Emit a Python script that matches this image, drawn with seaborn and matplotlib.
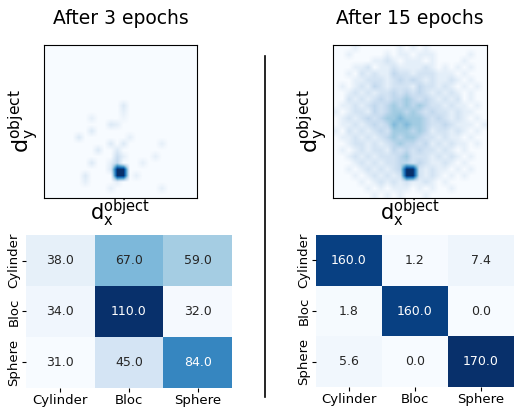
import numpy as np
import matplotlib
matplotlib.use("Agg")
import matplotlib.pyplot as plt
import seaborn as sb
from matplotlib.lines import Line2D

# confusion matrices
classes = ["Cylinder", "Bloc", "Sphere"]
conf3 = [[38.0, 67.0, 59.0],
         [34.0, 110.0, 32.0],
         [31.0, 45.0, 84.0]]
conf15 = [[160.0, 1.2, 7.4],
          [1.8, 160.0, 0.0],
          [5.6, 0.0, 170.0]]

# 2d histograms of object displacement (24x24 bins)
hist3 = ["000000000000000000000000",
         "000000000000000000000000",
         "000000000000000000000000",
         "000000000000000000000000",
         "000000000000000000000000",
         "000000000000000000000000",
         "000000000000000000000000",
         "000000000000000000000000",
         "000000000000000000000000",
         "000000000000300000000000",
         "000000000000200000000000",
         "000000020000100000000000",
         "000000000032000000000000",
         "000000030000000000000000",
         "000003000000020000000000",
         "000000000030300000200000",
         "000000003003000000000000",
         "000000000005200002000000",
         "000000030026000200000000",
         "000000000030000000000000",
         "000000300000002000000000",
         "000000200002000000000000",
         "000000000020000000200000",
         "000000000000000000000000"]
hist15 = ["000100000010101000000000",
          "001000001011011100000100",
          "000000112101110100001000",
          "000112011211112101010100",
          "001021211322122211101000",
          "000112221232321211210100",
          "010121321222132212101010",
          "001212122323232121210100",
          "002121232334323212120100",
          "011212323434343221211010",
          "101221323443432322121100",
          "012123234454443232121010",
          "011212323545443223211101",
          "102121232444343122121010",
          "011212123434432212110100",
          "001221212343323121211010",
          "010121221323232212101000",
          "001212122234222121210100",
          "000121212233232112101000",
          "001012121230221211010100",
          "000101212120021210101000",
          "000010121212112101000000",
          "000001010111010100100000",
          "000000101010001000000000"]
peak_rows = [19, 20]
peak_cols = [11, 12]
peak3 = 22
peak15 = 11

def toGrid(rows, peak):
  grid = np.array([[int(c) for c in r] for r in rows], dtype=float)
  for r in peak_rows:
    for c in peak_cols:
      grid[r, c] = peak
  return grid

def createHist(ax, rows, peak):
  ax.imshow(toGrid(rows, peak), cmap="Blues", interpolation="bilinear", aspect="auto")
  ax.set_xticks([])
  ax.set_yticks([])
  ax.set_xlabel(r"$\mathrm{d_x^{object}}$", fontsize=15, labelpad=0)
  ax.set_ylabel(r"$\mathrm{d_y^{object}}$", fontsize=16, labelpad=2)

def createConf(ax, data):
  sb.heatmap(data, ax=ax, cmap="Blues", annot=True, fmt=".1f", cbar=False,
             annot_kws={"size": 9}, xticklabels=classes, yticklabels=classes)
  ax.tick_params(labelsize=9.5, length=3, pad=1)
  plt.setp(ax.get_yticklabels(), rotation=90, va="center")

fig = plt.figure(figsize=(5.16, 4.07), dpi=100)

ax1 = fig.add_axes([0.0853, 0.5135, 0.2965, 0.3759])
ax2 = fig.add_axes([0.6453, 0.5135, 0.2984, 0.3759])
ax3 = fig.add_axes([0.0504, 0.0467, 0.3992, 0.3759])
ax4 = fig.add_axes([0.6124, 0.0491, 0.3837, 0.3735])

createHist(ax1, hist3, peak3)
createHist(ax2, hist15, peak15)
createConf(ax3, conf3)
createConf(ax4, conf15)

fig.text(0.2335, 0.955, "After 3 epochs", ha="center", va="center", fontsize=13.5)
fig.text(0.7946, 0.955, "After 15 epochs", ha="center", va="center", fontsize=13.5)

fig.add_artist(Line2D([0.5136, 0.5136], [0.025, 0.862], color="black", lw=1.2))

fig.savefig("out.png", dpi=100)
